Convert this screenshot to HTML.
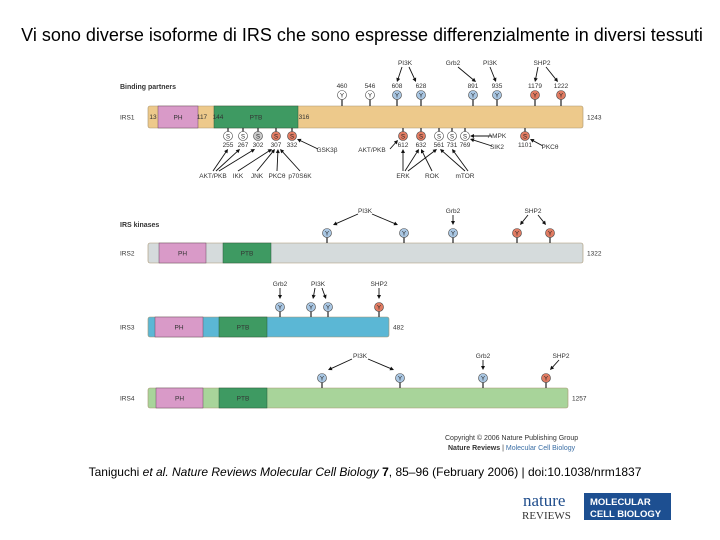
<!DOCTYPE html>
<html><head><meta charset="utf-8"><style>
html,body{margin:0;padding:0;background:#fff;width:720px;height:540px;overflow:hidden}
svg{display:block;font-family:"Liberation Sans",sans-serif}
</style></head><body>
<svg id="s" width="720" height="540" viewBox="0 0 720 540">
<text x="362" y="41" text-anchor="middle" font-size="18" fill="#000">Vi sono diverse isoforme di IRS che sono espresse differenzialmente in diversi tessuti</text>
<text x="120" y="89" font-size="7" font-weight="bold" fill="#333">Binding partners</text>
<text x="120" y="227" font-size="7" font-weight="bold" fill="#333">IRS kinases</text>
<g id="bars"></g>
<g id="pins"></g>
<g id="labels" font-size="6.5" fill="#333"></g>
<text x="445" y="440" font-size="7" fill="#333">Copyright © 2006 Nature Publishing Group</text>
<text x="448" y="450" font-size="7" fill="#333"><tspan font-weight="bold">Nature Reviews</tspan> | <tspan fill="#3a6ea5">Molecular Cell Biology</tspan></text>
<text x="365" y="476" text-anchor="middle" font-size="12" fill="#000">Taniguchi <tspan font-style="italic">et al.</tspan> <tspan font-style="italic">Nature Reviews Molecular Cell Biology</tspan> <tspan font-weight="bold">7</tspan>, 85–96 (February 2006) | doi:10.1038/nrm1837</text>
<text x="523" y="506" font-family="Liberation Serif,serif" font-size="17" fill="#1f4d8c">nature</text>
<text x="522" y="519" font-family="Liberation Serif,serif" font-size="11" fill="#333">REVIEWS</text>
<rect x="584" y="493" width="87" height="27" fill="#1d4f91"/>
<text x="590" y="505" font-size="9.5" font-weight="bold" fill="#fff">MOLECULAR</text>
<text x="590" y="517" font-size="9.5" font-weight="bold" fill="#fff">CELL BIOLOGY</text>
</svg>
<script>
const NS="http://www.w3.org/2000/svg";
function mk(p,t,a){const e=document.createElementNS(NS,t);for(const k in a)e.setAttribute(k,a[k]);p.appendChild(e);return e;}
const bars=document.getElementById('bars'),pins=document.getElementById('pins'),labs=document.getElementById('labels');
const proteins=[
 ["IRS1",106,22,148,583,"#edc98b",[158,198],[214,298],"1243"],
 ["IRS2",243,20,148,583,"#d5dbdc",[159,206],[223,271],"1322"],
 ["IRS3",317,20,148,389,"#5bb7d5",[155,203],[219,267],"482"],
 ["IRS4",388,20,148,568,"#a8d49a",[156,203],[219,267],"1257"]
];
proteins.forEach(p=>{
 const [n,y,h,x1,x2,c,ph,ptb,end]=p;
 let r=mk(bars,'rect',{x:x1,y:y,width:x2-x1,height:h,fill:c,stroke:"#a89470","stroke-width":0.6,rx:2});
 
 
 r=mk(bars,'rect',{x:ph[0],y:y,width:ph[1]-ph[0],height:h,fill:"#d99ac8",stroke:"#6a4a60","stroke-width":0.5});
 
 
 r=mk(bars,'rect',{x:ptb[0],y:y,width:ptb[1]-ptb[0],height:h,fill:"#3e9a62",stroke:"#2a5a3a","stroke-width":0.5});
 
 
 let t=mk(bars,'text',{x:(ph[0]+ph[1])/2,y:y+h/2+2.5,'font-size':6.5,'text-anchor':'middle',fill:'#333'});t.textContent="PH";
 
 
 t=mk(bars,'text',{x:(ptb[0]+ptb[1])/2,y:y+h/2+2.5,'font-size':6.5,'text-anchor':'middle',fill:'#333'});t.textContent="PTB";
 
 
 t=mk(bars,'text',{x:120,y:y+h/2+2.5,'font-size':6.5,fill:'#333'});t.textContent=n;
 
 
 t=mk(bars,'text',{x:x2+4,y:y+h/2+2.5,'font-size':6.5,fill:'#333'});t.textContent=end;
 
 
});
const fills={w:"#fff",b:"#a9c6e2",r:"#e07b62",g:"#c8c8c8"};
const pinList=[
 [342,95,106,"Y","w","460"],[370,95,106,"Y","w","546"],[397,95,106,"Y","b","608"],[421,95,106,"Y","b","628"],
 [473,95,106,"Y","b","891"],[497,95,106,"Y","b","935"],[535,95,106,"Y","r","1179"],[561,95,106,"Y","r","1222"],
 [228,136,128,"S","w","255"],[243,136,128,"S","w","267"],[258,136,128,"S","g","302"],[276,136,128,"S","r","307"],[292,136,128,"S","r","332"],
 [403,136,128,"S","r","612"],[421,136,128,"S","r","632"],[439,136,128,"S","w","561"],[452,136,128,"S","w","731"],[465,136,128,"S","w","769"],[525,136,128,"S","r","1101"],
 [327,233,243,"Y","b",""],[404,233,243,"Y","b",""],[453,233,243,"Y","b",""],[517,233,243,"Y","r",""],[550,233,243,"Y","r",""],
 [280,307,317,"Y","b",""],[311,307,317,"Y","b",""],[328,307,317,"Y","b",""],[379,307,317,"Y","r",""],
 [322,378,388,"Y","b",""],[400,378,388,"Y","b",""],[483,378,388,"Y","b",""],[546,378,388,"Y","r",""]
];
pinList.forEach(p=>{
 const [x,cy,by,l,c,num]=p;
 const g=mk(pins,'g',{});
 
 
 mk(g,'line',{x1:x,y1:cy,x2:x,y2:by,stroke:'#222','stroke-width':1.2});
 mk(g,'circle',{cx:x,cy:cy,r:4.5,fill:fills[c],stroke:'#444','stroke-width':0.6});
 const t=mk(g,'text',{x:x,y:cy+2.3,'font-size':6,'text-anchor':'middle',fill:'#222'});t.textContent=l;
 if(num){const ny=l=="Y"?cy-7:cy+11;const tt=mk(g,'text',{x:x,y:ny,'font-size':6.5,'text-anchor':'middle',fill:'#333'});tt.textContent=num;}
});
const labelList=[
 [405,65,"PI3K"],[453,65,"Grb2"],[490,65,"PI3K"],[542,65,"SHP2"],
 [153,119,"13"],[202,119,"117"],[218,119,"144"],[304,119,"316"],
 [327,152,"GSK3β"],[372,152,"AKT/PKB"],[497,138,"AMPK"],[497,149,"SIK2"],[550,149,"PKCθ"],
 [213,178,"AKT/PKB"],[238,178,"IKK"],[257,178,"JNK"],[277,178,"PKCθ"],[300,178,"p70S6K"],
 [403,178,"ERK"],[432,178,"ROK"],[465,178,"mTOR"],
 [365,213,"PI3K"],[453,213,"Grb2"],[533,213,"SHP2"],
 [280,286,"Grb2"],[318,286,"PI3K"],[379,286,"SHP2"],
 [360,358,"PI3K"],[483,358,"Grb2"],[561,358,"SHP2"]
];
labelList.forEach(a=>{
 const t=mk(labs,'text',{x:a[0],y:a[1],'text-anchor':'middle'});t.textContent=a[2];
 
 
});
const arrows=[
 [402,67,397,82],[409,67,416,82],[458,67,476,82],[490,67,496,82],[538,67,535,82],[546,67,558,82],
 [318,149,297,139],[390,149,398,140],[492,136,470,136],[492,146,470,139],[543,146,530,139],
 [213,171,228,149],[216,171,240,149],[219,171,255,149],[238,171,272,149],[257,171,275,149],[277,171,278,149],[300,171,280,149],
 [403,171,403,149],[405,171,419,149],[408,171,437,149],[432,171,421,149],[465,171,440,149],[468,171,452,149],
 [358,214,333,225],[372,214,398,225],[453,215,453,225],[528,215,520,225],[538,215,546,225],
 [280,288,280,299],[315,288,313,299],[322,288,326,299],[379,288,379,299],
 [352,359,328,370],[368,359,394,370],[483,360,483,370],[559,360,550,370]
];
const ag=mk(pins,'g',{stroke:'#111','stroke-width':0.9,fill:'#111'});
arrows.forEach(a=>{
 const [x1,y1,x2,y2]=a;const L=Math.hypot(x2-x1,y2-y1),ux=(x2-x1)/L,uy=(y2-y1)/L;
 const l=mk(ag,'line',{x1:x1,y1:y1,x2:x2-ux*2,y2:y2-uy*2});
 
 
 mk(ag,'polygon',{points:`${x2},${y2} ${x2-ux*4-uy*2},${y2-uy*4+ux*2} ${x2-ux*4+uy*2},${y2-uy*4-ux*2}`,stroke:'none'});
});
</script>
</body></html>
